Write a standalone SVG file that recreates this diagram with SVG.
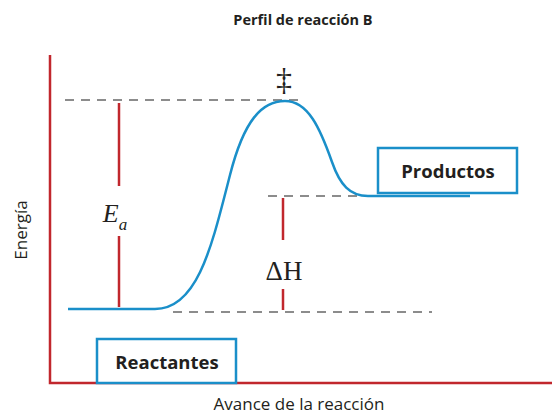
<svg xmlns="http://www.w3.org/2000/svg" width="552" height="414" viewBox="0 0 552 414">
<style>
.axis{stroke:#c1272d;stroke-width:2.5;fill:none}
.red{stroke:#c1272d;stroke-width:2.5}
.dash{stroke:#8c8c8c;stroke-width:2.2;stroke-dasharray:9,7;fill:none}
.curve{stroke:#1a8fc9;stroke-width:2.5;fill:none}
.box{fill:#fff;stroke:#1a8fc9;stroke-width:2.5}
.lbl{font-family:"Open Sans","Liberation Sans",sans-serif;font-weight:bold;font-size:18.5px;fill:#231f20;text-anchor:middle}
.ax{font-family:"Open Sans","Liberation Sans",sans-serif;font-size:17px;fill:#231f20;text-anchor:middle}
.ser{font-family:"Liberation Serif","DejaVu Serif",serif;fill:#231f20;text-anchor:middle}
</style>
<rect width="552" height="414" fill="#fff"/>
<text class="lbl" x="303" y="25" style="font-size:14.5px">Perfil de reacción B</text>
<g id="axes">
<path class="axis" d="M50,55 V383 H552"/>
</g>
<text class="ax" x="0" y="0" transform="translate(27,230) rotate(-90)">Energía</text>
<text class="ax" x="299" y="410">Avance de la reacción</text>
<g id="guides">
<path class="dash" d="M65,100 H305"/>
<path class="dash" d="M268,196 H440"/>
<path class="dash" d="M173,312 H432"/>
</g>
<g id="connectors">
<line class="red" x1="119" y1="103" x2="119" y2="186"/>
<line class="red" x1="119" y1="236" x2="119" y2="307"/>
<line class="red" x1="283" y1="198" x2="283" y2="240"/>
<line class="red" x1="283" y1="289" x2="283" y2="310"/>
</g>
<path class="curve" d="M68,309 H155 C198,309 212,245 230,175 C244,120 262,101 285,101 C308,101 320,128 332,162 C340,185 350,196 368,196 H470"/>
<g id="ts"><text class="ser" x="284" y="90" style="font-size:32px;font-weight:300">‡</text></g>
<g id="ea"><text class="ser" x="115" y="222" style="font-size:26px;font-style:italic">E<tspan dy="8" style="font-size:17px">a</tspan></text></g>
<g id="dh"><text class="ser" x="284" y="280" style="font-size:27px">ΔH</text></g>
<g id="productos">
<rect class="box" x="378" y="148" width="139" height="45"/>
<text class="lbl" x="448" y="178">Productos</text>
</g>
<g id="reactantes">
<rect class="box" x="97" y="339" width="139" height="44"/>
<text class="lbl" x="167" y="369">Reactantes</text>
</g>
</svg>
